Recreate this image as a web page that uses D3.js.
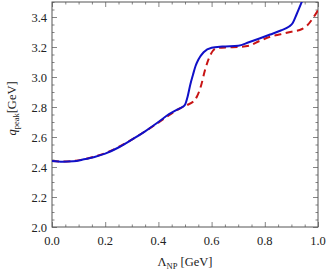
<!DOCTYPE html>
<html>
<head>
<meta charset="utf-8">
<script src="https://cdn.jsdelivr.net/npm/d3@7"></script>
<style>
  body { margin: 0; background: #fff; }
  svg text { font-family: "Liberation Serif", "DejaVu Serif", serif; fill: #222; }
</style>
</head>
<body>
<div id="chart"></div>
<script>
// Λ_NP values and peak positions
const lambdaSolid = [0.00, 0.04, 0.08, 0.12, 0.16, 0.20, 0.25, 0.30, 0.35, 0.40, 0.44, 0.47, 0.49, 0.50, 0.51, 0.52, 0.53, 0.54, 0.55, 0.57, 0.60, 0.64, 0.70, 0.74, 0.78, 0.82, 0.86, 0.89, 0.905, 0.92, 0.94];
const qSolid      = [2.440, 2.435, 2.438, 2.451, 2.467, 2.489, 2.530, 2.582, 2.638, 2.700, 2.752, 2.782, 2.800, 2.815, 2.870, 2.950, 3.015, 3.075, 3.115, 3.165, 3.195, 3.203, 3.208, 3.232, 3.257, 3.283, 3.310, 3.335, 3.360, 3.420, 3.505];

const lambdaDashed = [0.00, 0.04, 0.08, 0.12, 0.16, 0.20, 0.25, 0.30, 0.35, 0.40, 0.44, 0.48, 0.51, 0.53, 0.545, 0.56, 0.575, 0.59, 0.605, 0.62, 0.66, 0.70, 0.74, 0.78, 0.82, 0.86, 0.90, 0.94, 0.96, 0.98, 1.00];
const qDashed      = [2.440, 2.436, 2.440, 2.452, 2.470, 2.492, 2.533, 2.583, 2.638, 2.696, 2.745, 2.790, 2.815, 2.835, 2.870, 2.940, 3.045, 3.125, 3.175, 3.193, 3.198, 3.200, 3.208, 3.240, 3.268, 3.285, 3.302, 3.320, 3.345, 3.390, 3.445];

const xTicks = [0.0, 0.2, 0.4, 0.6, 0.8, 1.0];
const yTicks = [2.0, 2.2, 2.4, 2.6, 2.8, 3.0, 3.2, 3.4];

const W = 328, H = 274;
const margin = { top: 2, right: 10, bottom: 47, left: 52 };
const width = W - margin.left - margin.right;
const height = H - margin.top - margin.bottom;

const svg = d3.select('#chart').append('svg')
    .attr('width', W)
    .attr('height', H);

const g = svg.append('g')
    .attr('transform', `translate(${margin.left},${margin.top})`);

const x = d3.scaleLinear().domain([0, 1]).range([0, width]);
const y = d3.scaleLinear().domain([2.0, 3.5]).range([height, 0]);

// minor ticks every 0.05
const xMinor = d3.range(0, 1.0001, 0.05).filter(v => Math.abs(v * 5 - Math.round(v * 5)) > 1e-6);
const yMinor = d3.range(2.0, 3.5001, 0.05).filter(v => Math.abs(v * 5 - Math.round(v * 5)) > 1e-6);

function frameAxis(axisFn, scale, ticks, size, labels) {
    return axisFn(scale).tickValues(ticks).tickSize(size).tickSizeOuter(0)
        .tickFormat(labels ? d3.format('.1f') : '');
}

// bottom
g.append('g').attr('transform', `translate(0,${height})`)
    .call(frameAxis(d3.axisTop, x, xMinor, 2.5, false));
const xAxis = g.append('g').attr('transform', `translate(0,${height})`)
    .call(frameAxis(d3.axisTop, x, xTicks, 5, false));
// top
g.append('g').call(frameAxis(d3.axisBottom, x, xMinor, 2.5, false));
g.append('g').call(frameAxis(d3.axisBottom, x, xTicks, 5, false));
// left
g.append('g').call(frameAxis(d3.axisRight, y, yMinor, 2.5, false));
g.append('g').call(frameAxis(d3.axisRight, y, yTicks, 5, false));
// right
g.append('g').attr('transform', `translate(${width},0)`)
    .call(frameAxis(d3.axisLeft, y, yMinor, 2.5, false));
g.append('g').attr('transform', `translate(${width},0)`)
    .call(frameAxis(d3.axisLeft, y, yTicks, 5, false));

g.selectAll('.domain').remove();
g.selectAll('.tick line').attr('stroke', '#666').attr('stroke-width', 0.8);

// frame
g.append('rect')
    .attr('width', width).attr('height', height)
    .attr('fill', 'none').attr('stroke', '#555').attr('stroke-width', 1);

// tick labels
g.selectAll('.xlab').data(xTicks).enter().append('text')
    .attr('x', d => x(d)).attr('y', height + 18)
    .attr('text-anchor', 'middle').style('font-size', '12.5px')
    .text(d => d3.format('.1f')(d));

g.selectAll('.ylab').data(yTicks).enter().append('text')
    .attr('x', -5).attr('y', d => y(d) + 4.5)
    .attr('text-anchor', 'end').style('font-size', '12.5px')
    .text(d => d3.format('.1f')(d));

// curves
g.append('clipPath').attr('id', 'clip')
    .append('rect').attr('width', width).attr('height', height);

const line = d3.line()
    .x(d => x(d[0]))
    .y(d => y(d[1]))
    .curve(d3.curveMonotoneX);

const plot = g.append('g').attr('clip-path', 'url(#clip)');

plot.append('path')
    .datum(d3.zip(lambdaDashed, qDashed))
    .attr('d', line)
    .attr('fill', 'none')
    .attr('stroke', '#c81414')
    .attr('stroke-width', 2)
    .attr('stroke-dasharray', '7,4.5');

plot.append('path')
    .datum(d3.zip(lambdaSolid, qSolid))
    .attr('d', line)
    .attr('fill', 'none')
    .attr('stroke', '#1010c8')
    .attr('stroke-width', 2);

// axis titles
const xt = svg.append('text')
    .attr('x', margin.left + width / 2).attr('y', 266)
    .attr('text-anchor', 'middle').style('font-size', '12.5px');
xt.append('tspan').text('Λ');
xt.append('tspan').attr('dy', 3).style('font-size', '8.5px').text('NP');
xt.append('tspan').attr('dy', -3).text(' [GeV]');

const yt = svg.append('text')
    .attr('transform', `translate(16,${margin.top + height / 2 - 6}) rotate(-90)`)
    .attr('text-anchor', 'middle').style('font-size', '12.5px');
yt.append('tspan').style('font-style', 'italic').text('q');
yt.append('tspan').attr('dy', 3).style('font-size', '8.5px').text('peak');
yt.append('tspan').attr('dy', -3).text('[GeV]');
</script>
</body>
</html>
